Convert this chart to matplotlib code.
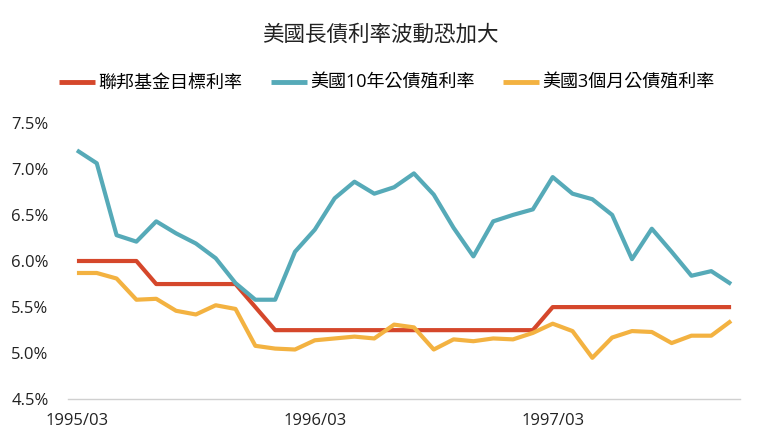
import matplotlib
matplotlib.use("Agg")
import matplotlib.pyplot as plt

plt.rcParams['font.family'] = ['Open Sans', 'Noto Sans CJK TC', 'DejaVu Sans']

title = "美國長債利率波動恐加大"
series_names = ["聯邦基金目標利率", "美國10年公債殖利率", "美國3個月公債殖利率"]
tick_positions = [0, 12, 24]
tick_labels = ["1995/03", "1996/03", "1997/03"]

fed_funds = [6.00, 6.00, 6.00, 6.00, 5.75, 5.75, 5.75, 5.75, 5.75, 5.50,
             5.25, 5.25, 5.25, 5.25, 5.25, 5.25, 5.25, 5.25, 5.25, 5.25,
             5.25, 5.25, 5.25, 5.25, 5.50, 5.50, 5.50, 5.50, 5.50, 5.50,
             5.50, 5.50, 5.50, 5.50]
t10y = [7.20, 7.06, 6.28, 6.21, 6.43, 6.30, 6.19, 6.03, 5.76, 5.58,
        5.58, 6.10, 6.34, 6.68, 6.86, 6.73, 6.80, 6.95, 6.72, 6.36,
        6.05, 6.43, 6.50, 6.56, 6.91, 6.73, 6.67, 6.50, 6.02, 6.35,
        6.10, 5.84, 5.89, 5.75]
t3m = [5.87, 5.87, 5.81, 5.58, 5.59, 5.46, 5.42, 5.52, 5.48, 5.08,
       5.05, 5.04, 5.14, 5.16, 5.18, 5.16, 5.31, 5.28, 5.04, 5.15,
       5.13, 5.16, 5.15, 5.22, 5.32, 5.24, 4.95, 5.17, 5.24, 5.23,
       5.11, 5.19, 5.19, 5.35]

colors = ["#D5472B", "#56AAB8", "#F3B241"]

fig = plt.figure(figsize=(7.6, 4.46), dpi=100)
ax = fig.add_axes([0.0895, 0.1047, 0.8842, 0.6202])

x = list(range(len(t10y)))
ax.plot(x, fed_funds, color=colors[0], lw=3.0, label=series_names[0], solid_capstyle='butt', zorder=2)
ax.plot(x, t10y, color=colors[1], lw=3.0, label=series_names[1], solid_capstyle='butt', zorder=3)
ax.plot(x, t3m, color=colors[2], lw=3.0, label=series_names[2], solid_capstyle='butt', zorder=4)

ax.set_xlim(-0.45, len(x) - 1 + 0.45)
ax.set_ylim(4.5, 7.5)
ax.set_yticks([4.5, 5.0, 5.5, 6.0, 6.5, 7.0, 7.5])
ax.set_yticklabels([f"{v:.1f}%" for v in [4.5, 5.0, 5.5, 6.0, 6.5, 7.0, 7.5]])
ax.set_xticks(tick_positions)
ax.set_xticklabels(tick_labels)
ax.tick_params(axis='both', length=0, labelsize=12, colors='#222222')
ax.tick_params(axis='y', pad=14)
ax.tick_params(axis='x', pad=10)
for s in ['top', 'right', 'left']:
    ax.spines[s].set_visible(False)
ax.spines['bottom'].set_color('#D0D0D0')
ax.spines['bottom'].set_linewidth(1.0)

fig.text(0.5, 1 - 35 / 446, title, ha='center', va='center', fontsize=15.5, color='#222222')
leg = fig.legend(loc='center', bbox_to_anchor=(0.509, 1 - 83 / 446), ncol=3, frameon=False,
                 fontsize=13, handlelength=2.0, columnspacing=1.55, handletextpad=0.2)
for line in leg.get_lines():
    line.set_linewidth(3.5)

fig.savefig("out.png", dpi=100, facecolor='white')
